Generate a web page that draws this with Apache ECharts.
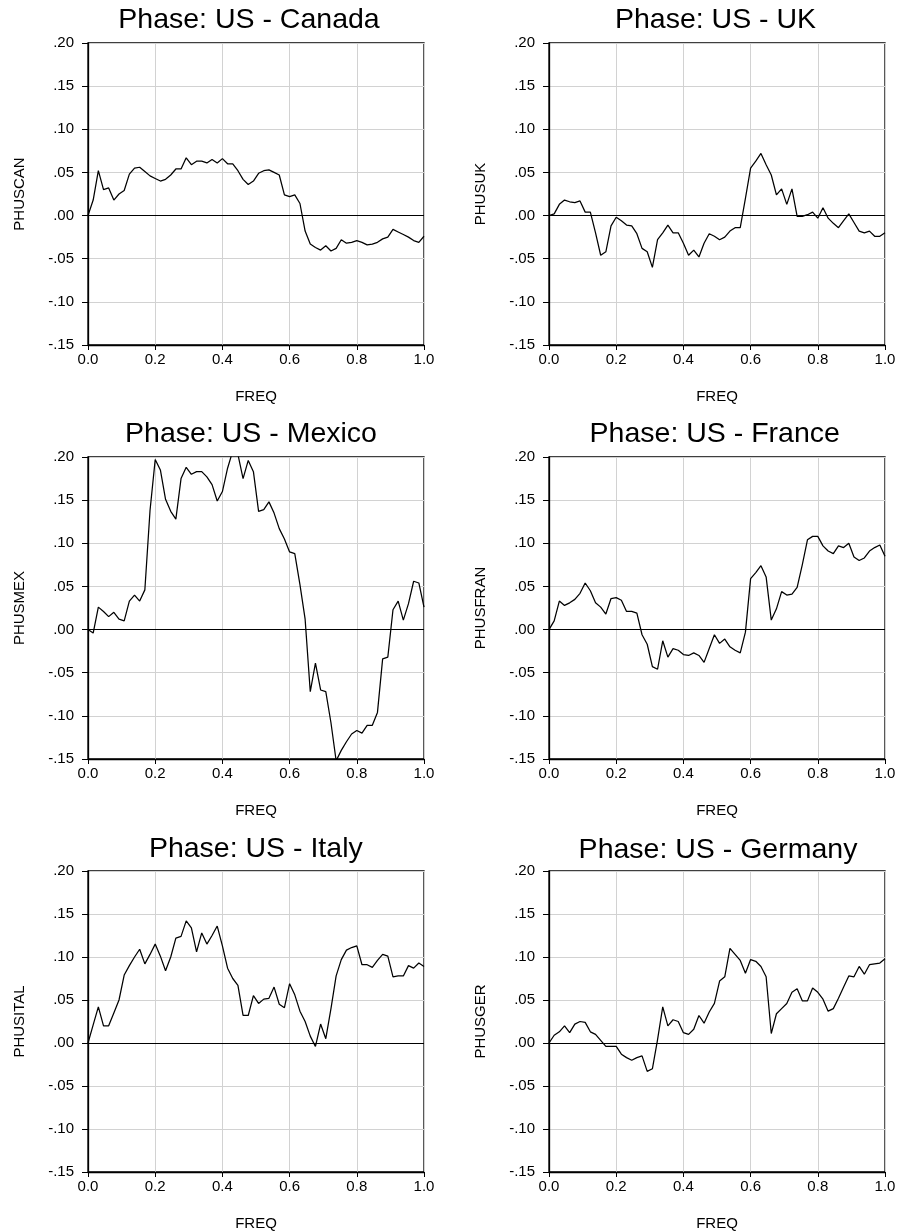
<!DOCTYPE html>
<html>
<head>
<meta charset="utf-8">
<script src="https://cdn.jsdelivr.net/npm/echarts@6/dist/echarts.min.js"></script>
<style>
html,body{margin:0;padding:0;background:#ffffff;}
#chart{width:899px;height:1232px;}
</style>
</head>
<body>
<div id="chart"></div>
<script>
// ---- data ----
const FREQ = [0, .0154, .0308, .0462, .0615, .0769, .0923, .1077, .1231, .1385,
  .1538, .1692, .1846, .2000, .2154, .2308, .2462, .2615, .2769, .2923,
  .3077, .3231, .3385, .3538, .3692, .3846, .4000, .4154, .4308, .4462,
  .4615, .4769, .4923, .5077, .5231, .5385, .5538, .5692, .5846, .6000,
  .6154, .6308, .6462, .6615, .6769, .6923, .7077, .7231, .7385, .7538,
  .7692, .7846, .8000, .8154, .8308, .8462, .8615, .8769, .8923, .9077,
  .9231, .9385, .9538, .9692, .9846, 1.0000];

const PHUSCAN = [0.000, 0.018, 0.052, 0.030, 0.032, 0.018, 0.025, 0.029, 0.048, 0.055,
  0.056, 0.051, 0.046, 0.043, 0.040, 0.042, 0.047, 0.054, 0.054, 0.067,
  0.059, 0.063, 0.063, 0.061, 0.065, 0.061, 0.066, 0.060, 0.060, 0.052,
  0.042, 0.036, 0.040, 0.049, 0.052, 0.053, 0.050, 0.047, 0.024, 0.022,
  0.024, 0.014, -0.018, -0.033, -0.037, -0.040, -0.035, -0.041, -0.038, -0.028,
  -0.032, -0.031, -0.029, -0.031, -0.034, -0.033, -0.031, -0.027, -0.025, -0.016,
  -0.019, -0.022, -0.025, -0.029, -0.031, -0.024];

const PHUSUK = [0.000, 0.002, 0.013, 0.018, 0.016, 0.015, 0.017, 0.004, 0.004, -0.020,
  -0.046, -0.042, -0.012, -0.002, -0.006, -0.011, -0.012, -0.021, -0.038, -0.042,
  -0.060, -0.028, -0.020, -0.011, -0.020, -0.020, -0.032, -0.046, -0.040, -0.048,
  -0.032, -0.021, -0.024, -0.028, -0.025, -0.018, -0.014, -0.014, 0.020, 0.055,
  0.063, 0.072, 0.059, 0.047, 0.024, 0.031, 0.013, 0.031, -0.001, -0.001,
  0.001, 0.004, -0.003, 0.009, -0.003, -0.009, -0.014, -0.006, 0.002, -0.008,
  -0.018, -0.020, -0.018, -0.024, -0.024, -0.020];

const PHUSMEX = [0.000, -0.004, 0.026, 0.021, 0.015, 0.020, 0.012, 0.010, 0.033, 0.040,
  0.033, 0.046, 0.138, 0.197, 0.185, 0.151, 0.137, 0.128, 0.175, 0.188,
  0.180, 0.183, 0.183, 0.177, 0.168, 0.149, 0.160, 0.187, 0.207, 0.203,
  0.175, 0.196, 0.183, 0.137, 0.139, 0.148, 0.135, 0.117, 0.105, 0.090,
  0.088, 0.052, 0.012, -0.072, -0.039, -0.070, -0.072, -0.108, -0.152, -0.140,
  -0.130, -0.121, -0.117, -0.120, -0.111, -0.111, -0.096, -0.034, -0.032, 0.023,
  0.033, 0.011, 0.030, 0.056, 0.054, 0.026];

const PHUSFRAN = [0.000, 0.010, 0.033, 0.028, 0.031, 0.035, 0.042, 0.054, 0.045, 0.031,
  0.026, 0.018, 0.036, 0.037, 0.034, 0.021, 0.021, 0.019, -0.006, -0.017,
  -0.043, -0.046, -0.013, -0.032, -0.022, -0.024, -0.029, -0.030, -0.027, -0.030,
  -0.038, -0.022, -0.006, -0.016, -0.011, -0.020, -0.024, -0.027, -0.003, 0.059,
  0.066, 0.074, 0.061, 0.011, 0.024, 0.044, 0.040, 0.041, 0.049, 0.075,
  0.104, 0.108, 0.108, 0.097, 0.091, 0.088, 0.097, 0.095, 0.100, 0.084,
  0.080, 0.083, 0.091, 0.095, 0.098, 0.085];

const PHUSITAL = [0.000, 0.021, 0.042, 0.020, 0.020, 0.035, 0.050, 0.079, 0.090, 0.100,
  0.109, 0.092, 0.103, 0.115, 0.101, 0.084, 0.100, 0.122, 0.124, 0.142,
  0.134, 0.106, 0.128, 0.115, 0.125, 0.136, 0.113, 0.087, 0.075, 0.067,
  0.032, 0.032, 0.055, 0.046, 0.051, 0.052, 0.065, 0.045, 0.041, 0.069,
  0.056, 0.037, 0.025, 0.008, -0.004, 0.022, 0.005, 0.040, 0.078, 0.097,
  0.108, 0.111, 0.113, 0.091, 0.091, 0.088, 0.096, 0.103, 0.101, 0.077,
  0.078, 0.078, 0.090, 0.087, 0.093, 0.089];

const PHUSGER = [0.000, 0.009, 0.013, 0.020, 0.012, 0.022, 0.025, 0.024, 0.013, 0.010,
  0.003, -0.004, -0.004, -0.004, -0.013, -0.017, -0.020, -0.017, -0.015, -0.033,
  -0.030, 0.004, 0.042, 0.020, 0.027, 0.025, 0.012, 0.010, 0.016, 0.032,
  0.023, 0.036, 0.046, 0.072, 0.077, 0.110, 0.103, 0.096, 0.081, 0.097,
  0.095, 0.089, 0.077, 0.011, 0.034, 0.040, 0.046, 0.059, 0.063, 0.049,
  0.049, 0.064, 0.059, 0.051, 0.037, 0.040, 0.052, 0.065, 0.078, 0.077,
  0.089, 0.080, 0.091, 0.092, 0.093, 0.098];

const TITLES = ['Phase: US - Canada', 'Phase: US - UK', 'Phase: US - Mexico',
                'Phase: US - France', 'Phase: US - Italy', 'Phase: US - Germany'];
const Y_NAMES = ['PHUSCAN', 'PHUSUK', 'PHUSMEX', 'PHUSFRAN', 'PHUSITAL', 'PHUSGER'];
const SERIES_VALUES = [PHUSCAN, PHUSUK, PHUSMEX, PHUSFRAN, PHUSITAL, PHUSGER];
const X_NAME = 'FREQ';
const X_TICKS = [0.0, 0.2, 0.4, 0.6, 0.8, 1.0];
const X_TICK_LABELS = ['0.0', '0.2', '0.4', '0.6', '0.8', '1.0'];
const Y_TICKS = [-0.15, -0.10, -0.05, 0.00, 0.05, 0.10, 0.15, 0.20];
const Y_TICK_LABELS = ['-.15', '-.10', '-.05', '.00', '.05', '.10', '.15', '.20'];

// ---- layout ----
const FONT = '"Liberation Sans", Arial, Helvetica, sans-serif';
const COL_LEFT = [88, 549];
const ROW_TOP = [43, 457, 871];
const PLOT_W = 336, PLOT_H = 302;
const TITLE_CX = [249, 715.5, 251, 714.7, 255.8, 718];
const TITLE_CY = [19.5, 19.5, 433.5, 433.5, 848.5, 849.5];
const TITLE_SIZE = 28.5;

function labelFor(ticks, labels, v) {
  for (let i = 0; i < ticks.length; i++) {
    if (Math.abs(ticks[i] - v) < 1e-6) return labels[i];
  }
  return '';
}

const grids = [], xAxes = [], yAxes = [], series = [], titles = [];
for (let p = 0; p < 6; p++) {
  const col = p % 2, row = Math.floor(p / 2);
  grids.push({
    left: COL_LEFT[col], top: ROW_TOP[row], width: PLOT_W, height: PLOT_H,
    show: true, borderColor: '#000', borderWidth: 1.3, backgroundColor: 'transparent',
    containLabel: false
  });
  xAxes.push({
    type: 'value', gridIndex: p, min: 0, max: 1, interval: 0.2,
    name: X_NAME, nameLocation: 'middle', nameGap: 44,
    nameTextStyle: { color: '#000', fontSize: 15, fontFamily: FONT },
    axisLine: { show: true, onZero: false, lineStyle: { color: '#000', width: 1.3 } },
    axisTick: { show: true, inside: false, length: 5, lineStyle: { color: '#000', width: 1 } },
    axisLabel: { color: '#000', fontSize: 15, fontFamily: FONT, margin: 7,
      formatter: v => labelFor(X_TICKS, X_TICK_LABELS, v) },
    splitLine: { show: true, lineStyle: { color: '#d2d2d2', width: 1 } }
  });
  yAxes.push({
    type: 'value', gridIndex: p, min: -0.15, max: 0.20, interval: 0.05,
    name: Y_NAMES[p], nameLocation: 'middle', nameGap: 61,
    nameTextStyle: { color: '#000', fontSize: 15, fontFamily: FONT },
    axisLine: { show: true, onZero: false, lineStyle: { color: '#000', width: 1.3 } },
    axisTick: { show: true, inside: false, length: 6, lineStyle: { color: '#000', width: 1 } },
    axisLabel: { color: '#000', fontSize: 15, fontFamily: FONT, margin: 14,
      formatter: v => labelFor(Y_TICKS, Y_TICK_LABELS, v) },
    splitLine: { show: true, lineStyle: { color: '#d2d2d2', width: 1 } }
  });
  series.push({
    type: 'line', xAxisIndex: p, yAxisIndex: p,
    data: FREQ.map((f, i) => [f, SERIES_VALUES[p][i]]),
    showSymbol: false, symbol: 'none', clip: true, smooth: false,
    lineStyle: { color: '#000', width: 1.25 },
    emphasis: { disabled: true },
    markLine: {
      silent: true, symbol: ['none', 'none'], animation: false,
      label: { show: false },
      lineStyle: { color: '#000', width: 1, type: 'solid' },
      data: [{ yAxis: 0 }]
    }
  });
  titles.push({
    text: TITLES[p], left: TITLE_CX[p], top: TITLE_CY[p] - TITLE_SIZE / 2,
    textAlign: 'center', padding: 0,
    textStyle: { color: '#000', fontSize: TITLE_SIZE, fontWeight: 'normal', fontFamily: FONT }
  });
}

const chart = echarts.init(document.getElementById('chart'), null, { renderer: 'canvas' });
chart.setOption({
  animation: false,
  backgroundColor: '#ffffff',
  title: titles,
  grid: grids,
  xAxis: xAxes,
  yAxis: yAxes,
  series: series
});
</script>
</body>
</html>
